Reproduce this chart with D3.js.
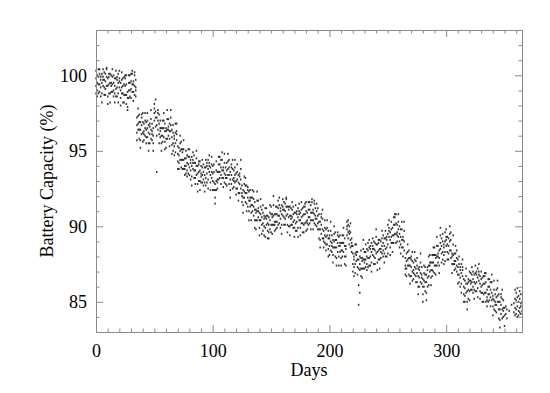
<!DOCTYPE html>
<html><head><meta charset="utf-8">
<script src="https://cdn.jsdelivr.net/npm/d3@7"></script>
<style>body{margin:0;background:#fff}svg{display:block}</style>
</head><body>
<script>
// Battery capacity (%) readings per day (index = day 0..365)
const capacity = [
[100.3,99.3,99.8,98.8],[99.0,100.0,98.6,99.5],[100.4,99.4,98.8,99.9],[99.4,100.1,100.4,98.9],[99.7,98.6,99.9,99.2],
[98.2,99.5,98.8,100.1],[99.9,100.4,99.3,99.7],[100.2,99.2,99.7,98.7],[99.1,100.1,98.7,99.6],[100.5,99.9,99.3,100.4],
[98.6,99.3,99.8,98.1],[99.9,98.8,100.1,99.4],[98.2,99.5,98.8,100.1],[99.5,100.0,98.9,99.3],[100.4,99.4,99.9,98.9],
[99.0,100.0,98.6,99.5],[99.8,98.8,98.2,99.3],[99.1,99.8,100.3,98.6],[99.7,98.6,99.9,99.2],[98.2,99.5,98.8,100.1],
[99.8,100.3,99.2,99.6],[99.5,98.5,99.0,98.0],[99.2,100.2,98.8,99.7],[99.8,98.8,98.2,99.3],[98.7,99.4,99.9,98.2],
[99.8,98.7,100.0,99.3],[98.1,99.4,98.7,100.0],[98.5,97.9,98.9,97.7],[100.0,99.0,99.5,98.5],[99.0,100.0,98.6,99.5],
[100.1,99.1,98.5,99.6],[99.4,100.1,100.3,98.9],[99.4,98.3,99.6,98.9],[98.7,100.0,99.3,100.2],[99.2,99.7,98.6,99.0],
[97.2,96.2,96.7,95.7],[96.8,97.8,96.4,97.3],[97.4,96.4,95.8,96.9],[95.7,96.4,96.9,95.2],[97.2,96.1,97.4,96.7],
[95.6,96.9,96.2,97.5],[96.3,96.8,95.7,96.1],[97.5,96.5,97.0,96.0],[95.9,96.9,95.5,96.4],[97.5,96.5,95.9,97.0],
[95.5,96.2,96.7,95.0],[96.6,95.5,96.8,96.1],[95.8,97.1,96.4,97.7],[96.3,96.8,95.7,96.1],[96.5,95.5,96.0,95.0],
[97.5,98.1,97.0,97.8],[97.2,96.6,97.6,98.4],[96.0,96.7,97.2,93.6],[97.5,96.4,97.7,97.0],[95.5,96.8,96.1,97.4],
[96.5,97.0,95.9,96.3],[96.5,95.5,96.0,95.0],[96.0,97.0,95.6,96.5],[97.5,96.5,95.9,97.0],[95.6,96.3,96.8,95.1],
[96.3,95.2,96.5,95.8],[95.8,97.1,96.4,97.7],[96.6,97.1,96.0,96.4],[96.8,95.8,96.3,95.3],[96.7,97.7,96.3,97.2],
[96.4,95.4,94.8,95.9],[95.5,96.2,96.7,95.0],[95.8,94.7,96.0,95.3],[94.9,96.2,95.5,96.8],[96.3,96.8,95.7,96.1],
[95.3,94.3,94.8,93.8],[94.2,95.2,93.8,94.7],[96.0,95.0,94.4,95.5],[94.4,95.1,95.6,93.9],[94.9,93.8,95.1,94.4],
[93.8,95.1,94.4,95.7],[94.0,94.5,93.4,93.8],[95.0,94.0,94.5,93.5],[93.7,94.7,93.3,94.2],[95.1,94.1,93.5,94.6],
[93.9,94.6,95.1,93.4],[94.2,93.1,94.4,93.7],[92.7,94.0,93.3,94.6],[94.4,94.9,93.8,94.2],[94.7,93.7,94.2,93.2],
[93.2,94.2,92.8,93.7],[95.0,94.0,93.4,94.5],[92.8,93.5,94.0,92.3],[94.1,93.0,94.3,93.6],[92.4,93.7,93.0,94.3],
[93.5,94.0,92.9,93.3],[94.4,93.4,93.9,92.9],[93.1,94.1,92.7,93.6],[93.9,92.9,92.3,93.4],[93.2,93.9,94.4,92.7],
[94.0,92.9,94.2,93.5],[92.5,93.8,93.1,94.4],[94.2,94.7,93.6,94.0],[93.9,92.9,93.4,92.4],[93.6,94.6,93.2,94.1],
[94.0,93.0,92.4,93.5],[92.9,93.6,94.1,92.4],[92.4,91.9,91.5,92.8],[92.4,93.7,93.0,94.3],[93.1,93.6,92.5,92.9],
[94.6,93.6,94.1,93.1],[93.6,94.6,93.2,94.1],[94.4,93.4,92.8,93.9],[93.7,94.4,94.9,93.2],[93.7,92.6,93.9,93.2],
[92.9,94.2,93.5,94.8],[93.4,93.9,92.8,93.2],[94.2,93.2,93.7,92.7],[93.8,94.8,93.4,94.3],[94.4,93.4,92.8,93.9],
[92.4,93.1,93.6,91.9],[93.9,92.8,94.1,93.4],[92.5,93.8,93.1,94.4],[93.2,93.7,92.6,93.0],[94.4,93.4,93.9,92.9],
[92.5,93.5,92.1,93.0],[94.1,93.1,92.5,93.6],[92.2,92.9,93.4,91.7],[93.3,92.2,93.5,92.8],[92.5,93.8,93.1,94.4],
[92.2,92.7,91.6,92.0],[92.4,91.4,91.9,90.9],[92.3,93.3,91.9,92.8],[93.2,92.2,91.6,92.7],[91.5,92.2,92.7,91.0],
[92.4,91.3,92.6,91.9],[90.4,91.7,91.0,92.3],[91.9,92.4,91.3,91.7],[91.9,90.9,91.4,90.4],[91.4,92.4,91.0,91.9],
[92.3,91.3,90.7,91.8],[90.4,91.1,91.6,89.9],[90.9,89.8,91.1,90.4],[90.4,91.7,91.0,92.3],[91.2,91.7,90.6,91.0],
[90.9,89.9,90.4,89.4],[90.8,91.8,90.4,91.3],[91.1,90.1,89.5,90.6],[90.2,90.9,91.4,89.7],[90.5,89.4,90.7,90.0],
[89.3,90.6,89.9,91.2],[90.7,91.2,90.1,90.5],[90.7,89.7,90.2,89.2],[89.6,90.6,89.2,90.1],[91.4,90.4,89.8,90.9],
[90.1,90.8,91.3,89.6],[90.6,89.5,90.8,90.1],[90.1,91.4,90.7,92.0],[90.3,90.8,89.7,90.1],[91.3,90.3,90.8,89.8],
[90.3,91.3,89.9,90.8],[91.7,90.7,90.1,91.2],[90.7,91.4,91.9,90.2],[91.0,89.9,91.2,90.5],[89.5,90.8,90.1,91.4],
[91.3,91.8,90.7,91.1],[91.6,90.6,91.1,90.1],[90.5,91.5,90.1,91.0],[91.9,91.3,90.7,91.8],[90.1,90.8,91.3,89.6],
[91.1,90.0,91.3,90.6],[89.4,90.7,90.0,91.3],[90.7,91.2,90.1,90.5],[91.6,90.6,91.1,90.1],[90.3,91.3,89.9,90.8],
[90.9,89.9,89.3,90.4],[90.2,90.9,91.4,89.7],[90.8,89.7,91.0,90.3],[89.3,90.6,89.9,91.2],[91.0,91.5,90.4,90.8],
[90.9,89.9,90.4,89.4],[90.6,91.6,90.2,91.1],[91.2,90.2,89.6,90.7],[90.1,90.8,91.3,89.6],[91.3,90.2,91.5,90.8],
[89.7,91.0,90.3,91.6],[90.4,90.9,89.8,90.2],[91.6,90.6,91.1,90.1],[90.6,91.6,90.2,91.1],[91.4,90.4,89.8,90.9],
[90.9,91.6,91.8,90.4],[90.9,89.8,91.1,90.4],[90.2,91.5,90.8,91.7],[90.7,91.2,90.1,90.5],[91.5,90.5,91.0,90.0],
[90.2,91.2,89.8,90.7],[90.8,89.8,89.2,90.3],[89.1,89.8,90.3,88.6],[90.6,89.5,90.8,90.1],[89.2,90.5,89.8,91.1],
[89.2,89.7,88.6,89.0],[90.4,89.4,89.9,88.9],[88.8,89.8,88.4,89.3],[90.4,89.4,88.8,89.9],[88.5,89.2,89.7,88.0],
[89.2,88.1,89.4,88.7],[88.4,89.7,89.0,90.3],[88.9,89.4,88.3,88.7],[89.1,88.1,88.6,87.6],[89.0,90.0,88.6,89.5],
[89.6,88.6,88.0,89.1],[87.9,88.6,89.1,87.4],[89.4,88.3,89.6,88.9],[87.4,88.7,88.0,89.3],[88.9,89.4,88.3,88.7],
[88.9,87.9,88.4,87.4],[88.4,89.4,88.0,88.9],[89.9,88.9,88.3,89.4],[88.0,88.7,89.2,87.5],[88.5,87.4,88.7,88.0],
[89.8,90.3,89.4,90.0],[90.4,89.6,90.1,89.2],[89.5,90.0,88.8,89.7],[89.1,89.6,88.6,90.2],[88.7,89.2,88.3,88.9],
[87.5,88.2,88.7,87.0],[87.8,86.7,88.0,87.3],[86.9,88.2,87.5,88.8],[88.3,88.8,87.7,88.1],[88.3,87.3,87.8,86.8],
[87.8,87.2,86.1,84.8],[87.5,88.0,87.1,85.6],[87.2,87.9,88.4,86.7],[87.7,86.6,87.9,87.2],[87.2,88.5,87.8,89.1],
[87.8,88.3,87.2,87.6],[88.8,87.8,88.3,87.3],[87.5,88.5,87.1,88.0],[88.9,87.9,87.3,88.4],[87.9,88.6,89.1,87.4],
[88.5,87.4,88.7,88.0],[87.0,88.3,87.6,88.9],[88.7,89.2,88.1,88.5],[89.0,88.0,88.5,87.5],[87.9,88.9,87.5,88.4],
[89.8,88.8,88.2,89.3],[87.6,88.3,88.8,87.1],[88.9,87.8,89.1,88.4],[87.2,88.5,87.8,89.1],[88.5,89.0,87.9,88.3],
[89.7,88.7,89.2,88.2],[88.4,89.4,88.0,88.9],[89.2,88.2,87.6,88.7],[88.5,89.2,89.7,88.0],[89.1,88.0,89.3,88.6],
[88.2,89.5,88.8,90.1],[89.9,90.4,89.3,89.7],[89.6,88.6,89.1,88.1],[89.3,90.3,88.9,89.8],[89.9,88.9,88.3,89.4],
[89.4,90.1,90.6,88.9],[90.6,89.5,90.8,90.1],[88.9,90.2,89.5,90.8],[89.6,90.1,89.0,89.4],[90.8,89.8,90.3,89.3],
[89.0,90.0,88.6,89.5],[89.8,88.8,88.2,89.3],[89.1,89.8,90.3,88.6],[89.1,88.0,89.3,88.6],[88.4,89.7,89.0,90.3],
[87.4,87.9,86.8,87.2],[88.2,87.2,87.7,86.7],[87.8,88.8,87.4,88.3],[88.4,87.4,86.8,87.9],[86.7,87.4,87.9,86.2],
[87.8,86.7,88.0,87.3],[86.4,87.7,87.0,88.3],[87.1,87.6,86.5,86.9],[88.3,87.3,87.8,86.8],[86.7,87.7,86.3,87.2],
[87.9,86.9,86.3,87.4],[86.0,86.7,87.2,85.5],[87.1,86.0,87.3,86.6],[86.3,87.6,86.9,88.2],[86.8,87.3,86.2,86.6],
[86.5,85.5,86.0,85.0],[86.4,87.4,86.0,86.9],[87.3,86.3,85.7,86.8],[85.6,86.3,86.8,85.1],[87.1,86.0,87.3,86.6],
[86.1,87.4,86.7,88.0],[87.6,88.1,87.0,87.4],[87.6,86.6,87.1,86.1],[87.1,88.1,86.7,87.6],[88.6,87.6,87.0,88.1],
[87.4,88.1,88.6,86.9],[87.9,86.8,88.1,87.4],[87.4,88.7,88.0,89.3],[88.2,88.7,87.6,88.0],[88.4,87.4,87.9,86.9],
[88.9,89.9,88.5,89.4],[89.2,88.2,87.6,88.7],[88.3,89.0,89.5,87.8],[88.6,87.5,88.8,88.1],[87.7,89.0,88.3,89.6],
[89.3,89.8,88.7,89.1],[89.3,88.3,88.8,87.8],[88.2,89.2,87.8,88.7],[90.0,89.0,88.4,89.5],[88.4,89.1,89.6,87.9],
[88.0,86.9,88.2,87.5],[87.5,88.8,88.1,89.4],[87.7,88.2,87.1,87.5],[88.7,87.7,88.2,87.2],[87.4,88.4,87.0,87.9],
[87.8,86.8,86.2,87.3],[86.8,87.5,88.0,86.3],[87.1,86.0,87.3,86.6],[85.6,86.9,86.2,87.5],[87.3,87.8,86.7,87.1],
[86.5,85.5,86.0,85.0],[85.4,86.4,85.0,85.9],[87.2,86.2,85.6,86.7],[85.0,85.7,86.2,84.5],[86.3,85.2,86.5,85.8],
[85.1,86.4,85.7,87.0],[86.4,86.9,85.8,86.2],[87.3,86.3,86.8,85.8],[86.0,87.0,85.6,86.5],[86.8,85.8,85.2,86.3],
[86.2,86.9,87.4,85.7],[86.8,85.7,87.0,86.3],[85.3,86.6,85.9,87.2],[87.0,87.5,86.4,86.8],[86.7,85.7,86.2,85.2],
[86.0,87.0,85.6,86.5],[86.6,85.6,85.0,86.1],[85.5,86.2,86.7,85.0],[86.7,85.6,86.9,86.2],[85.0,86.3,85.6,86.9],
[85.3,85.8,84.7,85.1],[86.5,85.5,86.0,85.0],[85.5,86.5,85.1,86.0],[86.3,85.3,84.7,85.8],[85.6,86.3,86.8,85.1],
[85.2,84.1,85.4,84.7],[84.5,85.8,85.1,86.4],[85.0,85.5,84.4,84.8],[85.8,84.8,85.3,84.3],[85.4,86.4,85.0,85.9],
[85.5,84.5,83.9,85.0],[83.8,84.5,85.0,83.3],[85.3,84.2,85.5,84.8],[83.9,85.2,84.5,85.8],[84.6,85.1,84.0,84.4],
[84.6,84.1,83.4],[84.2,84.7],[84.5,83.9],[],[84.4],
[],[84.8],[],[84.9,84.3],[85.2,84.6,85.8,84.1],
[85.1,84.5,85.6,84.2],[84.7,85.3,84.0,85.9],[85.0,84.4,85.4,84.1],[84.6,85.2,84.3,85.7],[84.9,84.2,85.5,84.7],
[85.0,84.4]
];
const xMajorTicks = [0, 100, 200, 300];
const yMajorTicks = [85, 90, 95, 100];
const xLabel = "Days";
const yLabel = "Battery Capacity (%)";

const W = 550, H = 393;
const m = {left: 96, right: 28, top: 30, bottom: 61};
const pw = W - m.left - m.right, ph = H - m.top - m.bottom;
const serif = "'Liberation Serif','Times New Roman',serif";

const svg = d3.select("body").append("svg").attr("width", W).attr("height", H);
const x = d3.scaleLinear().domain([0, 365]).range([m.left, m.left + pw]);
const y = d3.scaleLinear().domain([83, 103]).range([m.top + ph, m.top]);

const points = [];
capacity.forEach((vals, day) => vals.forEach(v => points.push({day, v})));

svg.append("g").selectAll("rect").data(points).join("rect")
  .attr("x", d => x(d.day) - 0.7).attr("y", d => y(d.v) - 1)
  .attr("width", 1.5).attr("height", 2)
  .attr("fill", "#111").attr("opacity", 0.85);

const axColor = "#8a8a8a";
const xMinor = d3.range(0, 366, 10).filter(v => !xMajorTicks.includes(v));
const yMinor = d3.range(84, 103, 1).filter(v => !yMajorTicks.includes(v));

function styleAxis(g) {
  g.selectAll(".domain").attr("stroke", axColor);
  g.selectAll(".tick line").attr("stroke", axColor);
  g.selectAll("text").attr("fill", "#000").attr("font-family", serif).attr("font-size", 18);
}

// bottom
svg.append("g").attr("transform", `translate(0,${m.top + ph})`)
  .call(d3.axisBottom(x).tickValues(xMajorTicks).tickSize(-7).tickPadding(12).tickFormat(d3.format("d")))
  .call(styleAxis);
svg.append("g").attr("transform", `translate(0,${m.top + ph})`)
  .call(d3.axisBottom(x).tickValues(xMinor).tickSize(-3.5).tickFormat(""))
  .call(styleAxis);
// top
svg.append("g").attr("transform", `translate(0,${m.top})`)
  .call(d3.axisTop(x).tickValues(xMajorTicks).tickSize(-7).tickFormat(""))
  .call(styleAxis);
svg.append("g").attr("transform", `translate(0,${m.top})`)
  .call(d3.axisTop(x).tickValues(xMinor).tickSize(-3.5).tickFormat(""))
  .call(styleAxis);
// left
svg.append("g").attr("transform", `translate(${m.left},0)`)
  .call(d3.axisLeft(y).tickValues(yMajorTicks).tickSize(-7).tickPadding(9).tickFormat(d3.format("d")))
  .call(styleAxis);
svg.append("g").attr("transform", `translate(${m.left},0)`)
  .call(d3.axisLeft(y).tickValues(yMinor).tickSize(-3.5).tickFormat(""))
  .call(styleAxis);
// right
svg.append("g").attr("transform", `translate(${m.left + pw},0)`)
  .call(d3.axisRight(y).tickValues(yMajorTicks).tickSize(-7).tickFormat(""))
  .call(styleAxis);
svg.append("g").attr("transform", `translate(${m.left + pw},0)`)
  .call(d3.axisRight(y).tickValues(yMinor).tickSize(-3.5).tickFormat(""))
  .call(styleAxis);

svg.append("text").attr("x", m.left + pw / 2).attr("y", 376)
  .attr("text-anchor", "middle").attr("font-family", serif)
  .attr("font-size", 18).text(xLabel);
svg.append("text").attr("transform", `translate(53,${m.top + ph / 2}) rotate(-90)`)
  .attr("text-anchor", "middle").attr("font-family", serif)
  .attr("font-size", 18).text(yLabel);
</script>
</body></html>
